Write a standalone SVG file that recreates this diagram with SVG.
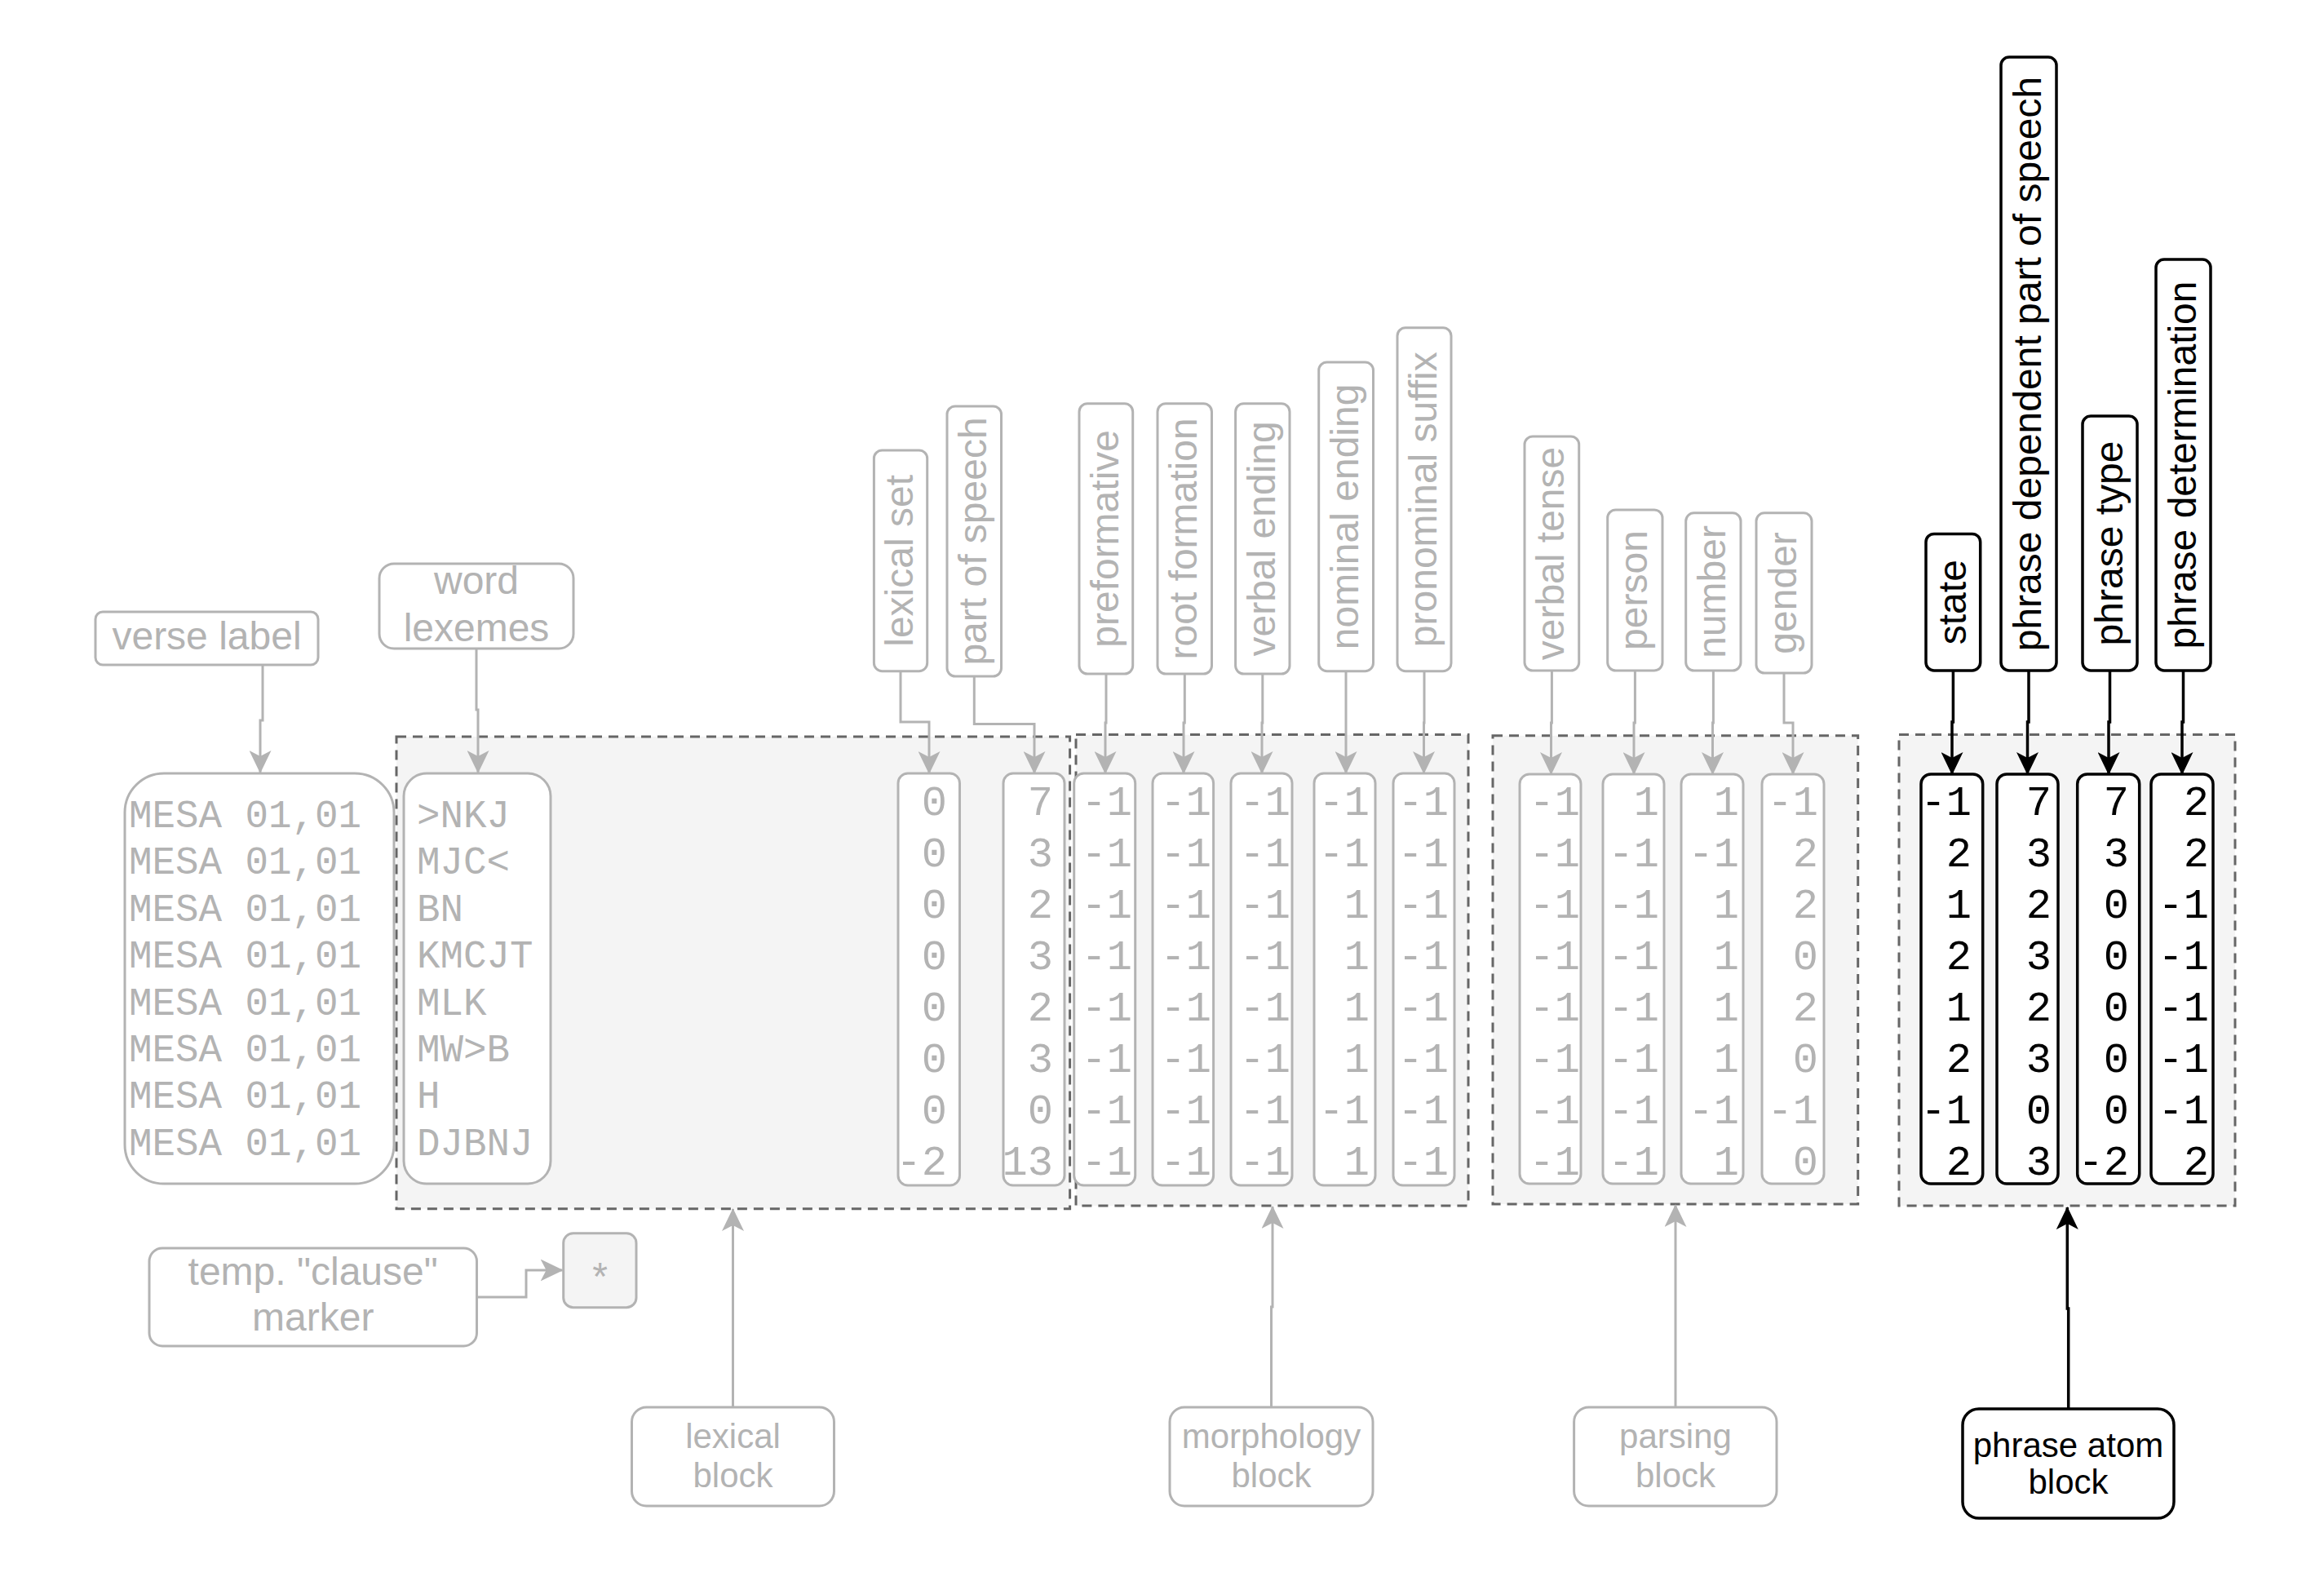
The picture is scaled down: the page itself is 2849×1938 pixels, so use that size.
<svg xmlns="http://www.w3.org/2000/svg" width="2849" height="1938" viewBox="0 0 2849 1938">
<defs>
<style>
.g{fill:#fff;stroke:#b3b3b3;stroke-width:3}
.k{fill:#fff;stroke:#000;stroke-width:3.5}
.dash{fill:#f4f4f4;stroke:#666;stroke-width:3;stroke-dasharray:12 8}
.lbl{font-family:"Liberation Sans",Arial,sans-serif;font-size:48px;fill:#b3b3b3;text-anchor:middle}
.lbk{font-family:"Liberation Sans",Arial,sans-serif;font-size:48px;fill:#000;text-anchor:middle}
.sm{font-size:42px}
.mono{font-family:"Liberation Mono","Courier New",monospace;font-size:47.5px;fill:#b3b3b3}
.num{font-family:"Liberation Mono","Courier New",monospace;font-size:52px;fill:#b3b3b3;text-anchor:end}
.numk{font-family:"Liberation Mono","Courier New",monospace;font-size:52px;fill:#000;text-anchor:end}
.cg{fill:none;stroke:#b3b3b3;stroke-width:3;marker-end:url(#ag)}
.ck{fill:none;stroke:#000;stroke-width:3.5;marker-end:url(#ak)}
</style>
<marker id="ag" viewBox="0 0 28 27" refX="27" refY="13.5" markerWidth="28" markerHeight="27" markerUnits="userSpaceOnUse" orient="auto">
<path d="M0,0 L28,13.5 L0,27 L7,13.5 Z" fill="#b3b3b3"/>
</marker>
<marker id="ak" viewBox="0 0 28 27" refX="27" refY="13.5" markerWidth="28" markerHeight="27" markerUnits="userSpaceOnUse" orient="auto">
<path d="M0,0 L28,13.5 L0,27 L7,13.5 Z" fill="#000"/>
</marker>
</defs>
<rect width="2849" height="1938" fill="#fff"/>

<g id="lexical-area"><rect class="dash" x="486" y="903" width="825.6" height="578.7"/></g>
<g id="morphology-area"><rect class="dash" x="1319" y="900.6" width="481" height="577.4"/></g>
<g id="parsing-area"><rect class="dash" x="1830" y="901.8" width="447.7" height="574.2"/></g>
<g id="phrase-area"><rect class="dash" x="2328" y="900.4" width="412" height="577.6"/></g>

<g id="connectors">
<path class="cg" d="M322,815 V883 H319 V947"/>
<path class="cg" d="M584,795 V870 H586 V947"/>
<path class="cg" d="M1104,822.7 V885 H1139 V948"/>
<path class="cg" d="M1194.3,829 V887.6 H1268 V948"/>
<path class="cg" d="M1356,826 V886 H1355 V948"/>
<path class="cg" d="M1452.3,826 V886 H1451 V948"/>
<path class="cg" d="M1547.8,826 V886 H1547 V948"/>
<path class="cg" d="M1650,822.7 V886 H1650 V948"/>
<path class="cg" d="M1746,822.7 V886 H1745.5 V948"/>
<path class="cg" d="M1902.4,822 V886 H1901.5 V949"/>
<path class="cg" d="M2004.4,822 V886 H2003 V949"/>
<path class="cg" d="M2100.4,822 V886 H2099.5 V949"/>
<path class="cg" d="M2187,825 V886 H2198 V949"/>
<path class="ck" d="M2394.4,822 V885 H2393 V949"/>
<path class="ck" d="M2487,822 V885 H2485.5 V949"/>
<path class="ck" d="M2586.5,822 V885 H2585 V949"/>
<path class="ck" d="M2676.5,822 V885 H2675 V949"/>
<path class="cg" d="M584.5,1590 H645 V1557 H689.6"/>
<path class="cg" d="M898.5,1725 V1482"/>
<path class="cg" d="M1558.5,1725 V1602 H1560 V1479"/>
<path class="cg" d="M2054,1725 V1477"/>
<path class="ck" d="M2535.7,1727 V1604 H2534.3 V1480"/>
</g>

<g id="verse-label"><rect class="g" x="117" y="750" width="273" height="65" rx="9"/><text class="lbl" x="253.5" y="796">verse label</text></g>
<g id="word-lexemes"><rect class="g" x="465" y="691" width="238" height="104" rx="18"/><text class="lbl" x="584" y="727.5">word</text><text class="lbl" x="584" y="785.5">lexemes</text></g>

<g id="verse-column"><rect class="g" x="153" y="948" width="330" height="503" rx="48"/>
<text class="mono"><tspan x="158" y="1014">MESA 01,01</tspan><tspan x="158" y="1071">MESA 01,01</tspan><tspan x="158" y="1129">MESA 01,01</tspan><tspan x="158" y="1186">MESA 01,01</tspan><tspan x="158" y="1244">MESA 01,01</tspan><tspan x="158" y="1301">MESA 01,01</tspan><tspan x="158" y="1358">MESA 01,01</tspan><tspan x="158" y="1416">MESA 01,01</tspan></text></g>
<g id="lexeme-column"><rect class="g" x="495" y="948" width="180" height="503" rx="28"/>
<text class="mono"><tspan x="511" y="1014">&gt;NKJ</tspan><tspan x="511" y="1071">MJC&lt;</tspan><tspan x="511" y="1129">BN</tspan><tspan x="511" y="1186">KMCJT</tspan><tspan x="511" y="1244">MLK</tspan><tspan x="511" y="1301">MW&gt;B</tspan><tspan x="511" y="1358">H</tspan><tspan x="511" y="1416">DJBNJ</tspan></text></g>

<g id="lbl-lexical-set"><rect class="g" x="1071.4" y="552" width="65.3" height="270.7" rx="10"/><text class="lbl" transform="translate(1119,687.4) rotate(-90)">lexical set</text></g>
<g id="lbl-part-of-speech"><rect class="g" x="1161" y="498" width="66.5" height="331" rx="10"/><text class="lbl" transform="translate(1209,663.5) rotate(-90)">part of speech</text></g>
<g id="lbl-preformative"><rect class="g" x="1323" y="494.7" width="65.7" height="331.3" rx="10"/><text class="lbl" transform="translate(1371,660.4) rotate(-90)">preformative</text></g>
<g id="lbl-root-formation"><rect class="g" x="1419" y="494.7" width="66.5" height="331.3" rx="10"/><text class="lbl" transform="translate(1467,660.4) rotate(-90)">root formation</text></g>
<g id="lbl-verbal-ending"><rect class="g" x="1514.6" y="494.7" width="66.4" height="331.3" rx="10"/><text class="lbl" transform="translate(1563,660.4) rotate(-90)">verbal ending</text></g>
<g id="lbl-nominal-ending"><rect class="g" x="1616.7" y="444" width="66.8" height="378.7" rx="10"/><text class="lbl" transform="translate(1665,633.4) rotate(-90)">nominal ending</text></g>
<g id="lbl-pronominal-suffix"><rect class="g" x="1713" y="401.7" width="66" height="421" rx="10"/><text class="lbl" transform="translate(1761,612.2) rotate(-90)">pronominal suffix</text></g>
<g id="lbl-verbal-tense"><rect class="g" x="1869" y="535" width="66.7" height="287" rx="10"/><text class="lbl" transform="translate(1917,678.5) rotate(-90)">verbal tense</text></g>
<g id="lbl-person"><rect class="g" x="1970.7" y="625" width="67.3" height="197" rx="10"/><text class="lbl" transform="translate(2019,723.5) rotate(-90)">person</text></g>
<g id="lbl-number"><rect class="g" x="2066.7" y="628.8" width="67.3" height="193.2" rx="10"/><text class="lbl" transform="translate(2115,725.4) rotate(-90)">number</text></g>
<g id="lbl-gender"><rect class="g" x="2153" y="628.8" width="68" height="196.2" rx="10"/><text class="lbl" transform="translate(2202,726.9) rotate(-90)">gender</text></g>
<g id="lbl-state"><rect class="k" x="2361" y="654.4" width="66.7" height="167.6" rx="10"/><text class="lbk" transform="translate(2410,738.2) rotate(-90)">state</text></g>
<g id="lbl-phrase-dependent-pos"><rect class="k" x="2453" y="70" width="68" height="752" rx="10"/><text class="lbk" transform="translate(2502,446) rotate(-90)">phrase dependent part of speech</text></g>
<g id="lbl-phrase-type"><rect class="k" x="2553" y="510" width="67" height="312" rx="10"/><text class="lbk" transform="translate(2602,666) rotate(-90)">phrase type</text></g>
<g id="lbl-phrase-determination"><rect class="k" x="2643" y="318" width="67" height="504" rx="10"/><text class="lbk" transform="translate(2692,570) rotate(-90)">phrase determination</text></g>

<g id="col-lexical-set"><rect class="g" x="1101" y="948" width="75.5" height="505" rx="12"/>
<text class="num"><tspan x="1161" y="999">0</tspan><tspan x="1161" y="1062">0</tspan><tspan x="1161" y="1125">0</tspan><tspan x="1161" y="1188">0</tspan><tspan x="1161" y="1251">0</tspan><tspan x="1161" y="1314">0</tspan><tspan x="1161" y="1377">0</tspan><tspan x="1161" y="1440">-2</tspan></text></g>
<g id="col-part-of-speech"><rect class="g" x="1230" y="948" width="75" height="505" rx="12"/>
<text class="num"><tspan x="1291" y="999">7</tspan><tspan x="1291" y="1062">3</tspan><tspan x="1291" y="1125">2</tspan><tspan x="1291" y="1188">3</tspan><tspan x="1291" y="1251">2</tspan><tspan x="1291" y="1314">3</tspan><tspan x="1291" y="1377">0</tspan><tspan x="1291" y="1440">13</tspan></text></g>
<g id="col-preformative"><rect class="g" x="1316.7" y="948" width="75" height="505" rx="12"/>
<text class="num"><tspan x="1388" y="999">-1</tspan><tspan x="1388" y="1062">-1</tspan><tspan x="1388" y="1125">-1</tspan><tspan x="1388" y="1188">-1</tspan><tspan x="1388" y="1251">-1</tspan><tspan x="1388" y="1314">-1</tspan><tspan x="1388" y="1377">-1</tspan><tspan x="1388" y="1440">-1</tspan></text></g>
<g id="col-root-formation"><rect class="g" x="1413" y="948" width="74.6" height="505" rx="12"/>
<text class="num"><tspan x="1485" y="999">-1</tspan><tspan x="1485" y="1062">-1</tspan><tspan x="1485" y="1125">-1</tspan><tspan x="1485" y="1188">-1</tspan><tspan x="1485" y="1251">-1</tspan><tspan x="1485" y="1314">-1</tspan><tspan x="1485" y="1377">-1</tspan><tspan x="1485" y="1440">-1</tspan></text></g>
<g id="col-verbal-ending"><rect class="g" x="1509" y="948" width="75" height="505" rx="12"/>
<text class="num"><tspan x="1582" y="999">-1</tspan><tspan x="1582" y="1062">-1</tspan><tspan x="1582" y="1125">-1</tspan><tspan x="1582" y="1188">-1</tspan><tspan x="1582" y="1251">-1</tspan><tspan x="1582" y="1314">-1</tspan><tspan x="1582" y="1377">-1</tspan><tspan x="1582" y="1440">-1</tspan></text></g>
<g id="col-nominal-ending"><rect class="g" x="1611" y="948" width="75" height="505" rx="12"/>
<text class="num"><tspan x="1679" y="999">-1</tspan><tspan x="1679" y="1062">-1</tspan><tspan x="1679" y="1125">1</tspan><tspan x="1679" y="1188">1</tspan><tspan x="1679" y="1251">1</tspan><tspan x="1679" y="1314">1</tspan><tspan x="1679" y="1377">-1</tspan><tspan x="1679" y="1440">1</tspan></text></g>
<g id="col-pronominal-suffix"><rect class="g" x="1708" y="948" width="75" height="505" rx="12"/>
<text class="num"><tspan x="1776" y="999">-1</tspan><tspan x="1776" y="1062">-1</tspan><tspan x="1776" y="1125">-1</tspan><tspan x="1776" y="1188">-1</tspan><tspan x="1776" y="1251">-1</tspan><tspan x="1776" y="1314">-1</tspan><tspan x="1776" y="1377">-1</tspan><tspan x="1776" y="1440">-1</tspan></text></g>
<g id="col-verbal-tense"><rect class="g" x="1863" y="949" width="75" height="502" rx="12"/>
<text class="num"><tspan x="1937" y="999">-1</tspan><tspan x="1937" y="1062">-1</tspan><tspan x="1937" y="1125">-1</tspan><tspan x="1937" y="1188">-1</tspan><tspan x="1937" y="1251">-1</tspan><tspan x="1937" y="1314">-1</tspan><tspan x="1937" y="1377">-1</tspan><tspan x="1937" y="1440">-1</tspan></text></g>
<g id="col-person"><rect class="g" x="1965" y="949" width="75" height="502" rx="12"/>
<text class="num"><tspan x="2034" y="999">1</tspan><tspan x="2034" y="1062">-1</tspan><tspan x="2034" y="1125">-1</tspan><tspan x="2034" y="1188">-1</tspan><tspan x="2034" y="1251">-1</tspan><tspan x="2034" y="1314">-1</tspan><tspan x="2034" y="1377">-1</tspan><tspan x="2034" y="1440">-1</tspan></text></g>
<g id="col-number"><rect class="g" x="2061" y="949" width="76" height="502" rx="12"/>
<text class="num"><tspan x="2132" y="999">1</tspan><tspan x="2132" y="1062">-1</tspan><tspan x="2132" y="1125">1</tspan><tspan x="2132" y="1188">1</tspan><tspan x="2132" y="1251">1</tspan><tspan x="2132" y="1314">1</tspan><tspan x="2132" y="1377">-1</tspan><tspan x="2132" y="1440">1</tspan></text></g>
<g id="col-gender"><rect class="g" x="2160" y="949" width="76" height="502" rx="12"/>
<text class="num"><tspan x="2229" y="999">-1</tspan><tspan x="2229" y="1062">2</tspan><tspan x="2229" y="1125">2</tspan><tspan x="2229" y="1188">0</tspan><tspan x="2229" y="1251">2</tspan><tspan x="2229" y="1314">0</tspan><tspan x="2229" y="1377">-1</tspan><tspan x="2229" y="1440">0</tspan></text></g>
<g id="col-state"><rect class="k" x="2355" y="949" width="75.7" height="502" rx="12"/>
<text class="numk"><tspan x="2417" y="999">-1</tspan><tspan x="2417" y="1062">2</tspan><tspan x="2417" y="1125">1</tspan><tspan x="2417" y="1188">2</tspan><tspan x="2417" y="1251">1</tspan><tspan x="2417" y="1314">2</tspan><tspan x="2417" y="1377">-1</tspan><tspan x="2417" y="1440">2</tspan></text></g>
<g id="col-phrase-dependent-pos"><rect class="k" x="2448" y="949" width="75" height="502" rx="12"/>
<text class="numk"><tspan x="2515" y="999">7</tspan><tspan x="2515" y="1062">3</tspan><tspan x="2515" y="1125">2</tspan><tspan x="2515" y="1188">3</tspan><tspan x="2515" y="1251">2</tspan><tspan x="2515" y="1314">3</tspan><tspan x="2515" y="1377">0</tspan><tspan x="2515" y="1440">3</tspan></text></g>
<g id="col-phrase-type"><rect class="k" x="2546.7" y="949" width="76" height="502" rx="12"/>
<text class="numk"><tspan x="2610" y="999">7</tspan><tspan x="2610" y="1062">3</tspan><tspan x="2610" y="1125">0</tspan><tspan x="2610" y="1188">0</tspan><tspan x="2610" y="1251">0</tspan><tspan x="2610" y="1314">0</tspan><tspan x="2610" y="1377">0</tspan><tspan x="2610" y="1440">-2</tspan></text></g>
<g id="col-phrase-determination"><rect class="k" x="2637" y="949" width="76" height="502" rx="12"/>
<text class="numk"><tspan x="2708" y="999">2</tspan><tspan x="2708" y="1062">2</tspan><tspan x="2708" y="1125">-1</tspan><tspan x="2708" y="1188">-1</tspan><tspan x="2708" y="1251">-1</tspan><tspan x="2708" y="1314">-1</tspan><tspan x="2708" y="1377">-1</tspan><tspan x="2708" y="1440">2</tspan></text></g>

<g id="temp-clause-marker"><rect class="g" x="183" y="1530" width="401.5" height="120" rx="16"/><text class="lbl" x="383.7" y="1575">temp. "clause"</text><text class="lbl" x="383.7" y="1631">marker</text></g>
<g id="star"><rect x="690.7" y="1511.7" width="89.3" height="91" rx="12" fill="#f4f4f4" stroke="#b3b3b3" stroke-width="3"/><text class="lbl" x="735.5" y="1581">*</text></g>
<g id="lexical-block"><rect class="g" x="774.5" y="1725" width="248" height="121" rx="18"/><text class="lbl sm" x="898.5" y="1775">lexical</text><text class="lbl sm" x="898.5" y="1823">block</text></g>
<g id="morphology-block"><rect class="g" x="1434" y="1725" width="249" height="121" rx="18"/><text class="lbl sm" x="1558.5" y="1775">morphology</text><text class="lbl sm" x="1558.5" y="1823">block</text></g>
<g id="parsing-block"><rect class="g" x="1929.6" y="1725" width="248.4" height="121" rx="18"/><text class="lbl sm" x="2054" y="1775">parsing</text><text class="lbl sm" x="2054" y="1823">block</text></g>
<g id="phrase-atom-block"><rect class="k" x="2406" y="1727" width="259" height="134" rx="20"/><text class="lbk sm" x="2535.5" y="1786">phrase atom</text><text class="lbk sm" x="2535.5" y="1831">block</text></g>
</svg>
